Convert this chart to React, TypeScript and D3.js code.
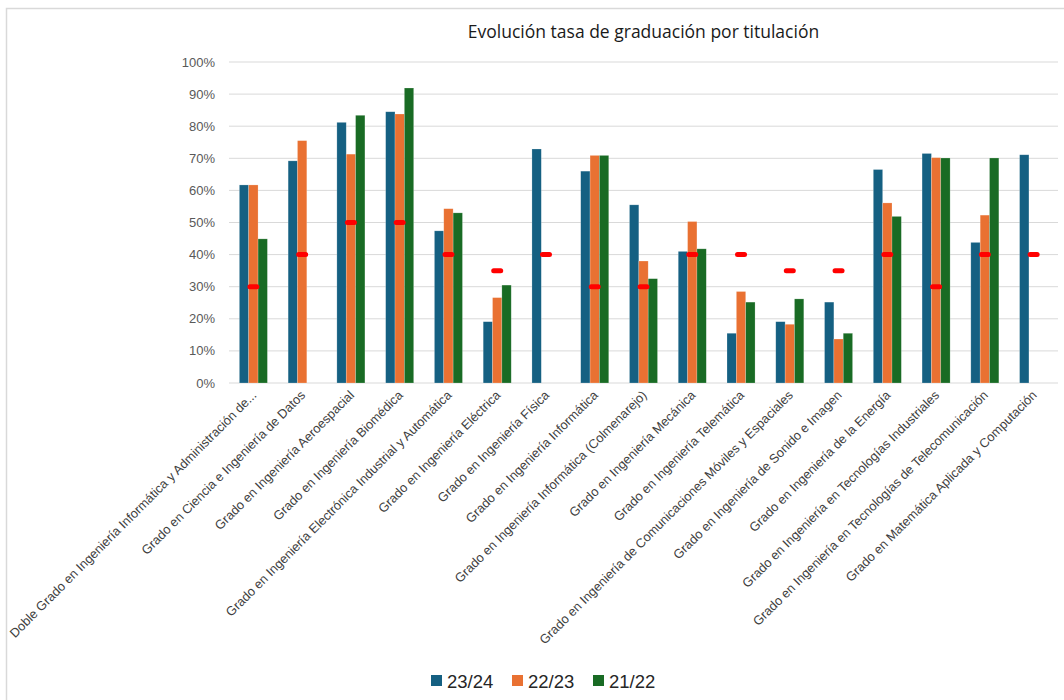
import React, { useRef, useEffect } from 'react';
import * as d3 from 'd3';

const categories = [
  'Doble Grado en Ingeniería Informática y Administración de...',
  'Grado en Ciencia e Ingeniería de Datos',
  'Grado en Ingeniería Aeroespacial',
  'Grado en Ingeniería Biomédica',
  'Grado en Ingeniería Electrónica Industrial y Automática',
  'Grado en Ingeniería Eléctrica',
  'Grado en Ingeniería Física',
  'Grado en Ingeniería Informática',
  'Grado en Ingeniería Informática (Colmenarejo)',
  'Grado en Ingeniería Mecánica',
  'Grado en Ingeniería Telemática',
  'Grado en Ingeniería de Comunicaciones Móviles y Espaciales',
  'Grado en Ingeniería de Sonido e Imagen',
  'Grado en Ingeniería de la Energía',
  'Grado en Ingeniería en Tecnologías Industriales',
  'Grado en Ingeniería en Tecnologías de Telecomunicación',
  'Grado en Matemática Aplicada y Computación',
];

const seriesNames = ['23/24', '22/23', '21/22'];

// null = no bar
const values2324 = [61.7, 69.2, 81.2, 84.5, 47.4, 19.1, 72.9, 66.0, 55.5, 41.0, 15.5, 19.1, 25.2, 66.5, 71.5, 43.8, 71.1];
const values2223 = [61.7, 75.5, 71.3, 83.8, 54.3, 26.6, null, 70.9, 38.0, 50.3, 28.5, 18.3, 13.7, 56.1, 70.2, 52.3, null];
const values2122 = [44.9, null, 83.4, 91.9, 53.0, 30.5, null, 70.9, 32.5, 41.8, 25.2, 26.2, 15.5, 51.9, 70.1, 70.1, null];

const targets = [30, 40, 50, 50, 40, 35, 40, 30, 30, 40, 40, 35, 35, 40, 30, 40, 40];

const yTicks = [0, 10, 20, 30, 40, 50, 60, 70, 80, 90, 100];

const colors = ['#156082', '#E97132', '#196B24'];

const W = 1064;
const H = 700;

export default function App() {
  const svgRef = useRef<SVGSVGElement>(null);

  useEffect(() => {
    if (!svgRef.current) return;
    const svg = d3.select(svgRef.current);
    svg.selectAll('*').remove();

    const margin = { left: 229, right: 6, top: 62, bottom: 317 };
    const x0 = margin.left;
    const x1 = W - margin.right;
    const y0 = H - margin.bottom; // 383

    // chart area border
    svg.append('rect')
      .attr('x', 6.5).attr('y', 8.5)
      .attr('width', W).attr('height', H)
      .attr('fill', '#fff')
      .attr('stroke', '#d9d9d9')
      .attr('stroke-width', 1.5);

    const x = d3.scaleBand<number>()
      .domain(d3.range(categories.length))
      .range([x0, x1])
      .paddingInner(0)
      .paddingOuter(0);

    const groupW = x.bandwidth() * 0.575;
    const xs = d3.scaleBand<number>()
      .domain([0, 1, 2])
      .range([0, groupW]);

    const y = d3.scaleLinear().domain([0, 100]).range([y0, margin.top]);

    // gridlines
    svg.append('g')
      .selectAll('line')
      .data(yTicks)
      .enter()
      .append('line')
      .attr('x1', x0).attr('x2', x1)
      .attr('y1', d => y(d)).attr('y2', d => y(d))
      .attr('stroke', '#d9d9d9')
      .attr('stroke-width', 1);

    // y labels
    svg.append('g')
      .selectAll('text')
      .data(yTicks)
      .enter()
      .append('text')
      .attr('x', 215)
      .attr('y', d => y(d))
      .attr('dy', '0.35em')
      .attr('text-anchor', 'end')
      .attr('font-family', '"Liberation Sans", Arial, sans-serif')
      .attr('font-size', 13)
      .attr('fill', '#595959')
      .text(d => `${d}%`);

    // bars
    const allSeries = [values2324, values2223, values2122];
    allSeries.forEach((vals, si) => {
      svg.append('g')
        .selectAll('rect')
        .data(vals.map((v, i) => ({ v, i })).filter(d => d.v !== null))
        .enter()
        .append('rect')
        .attr('x', d => (x(d.i) as number) + (x.bandwidth() - groupW) / 2 + (xs(si) as number))
        .attr('y', d => y(d.v as number))
        .attr('width', xs.bandwidth())
        .attr('height', d => y0 - y(d.v as number))
        .attr('fill', colors[si])
        .attr('stroke', '#ffffff')
        .attr('stroke-opacity', 0.35)
        .attr('stroke-width', 0.6);
    });

    // target markers
    svg.append('g')
      .selectAll('rect')
      .data(targets)
      .enter()
      .append('rect')
      .attr('x', (d, i) => (x(i) as number) + x.bandwidth() / 2 - 6)
      .attr('y', d => y(d) - 2.5)
      .attr('width', 12)
      .attr('height', 5)
      .attr('rx', 2.5)
      .attr('fill', '#ff0000');

    // x labels
    svg.append('g')
      .selectAll('text')
      .data(categories)
      .enter()
      .append('text')
      .attr('transform', (d, i) => `translate(${(x(i) as number) + x.bandwidth() / 2 + 4},${y0 + 13}) rotate(-45)`)
      .attr('text-anchor', 'end')
      .attr('font-family', '"Liberation Sans", Arial, sans-serif')
      .attr('font-size', 12.8)
      .attr('fill', '#404040')
      .text(d => d);

    // title
    svg.append('text')
      .attr('x', (x0 + x1) / 2)
      .attr('y', 38)
      .attr('text-anchor', 'middle')
      .attr('font-family', '"Open Sans", sans-serif')
      .attr('font-size', 17.5)
      .attr('fill', '#1a1a1a')
      .text('Evolución tasa de graduación por titulación');

    // legend
    const legendX = [431, 512, 593];
    const lg = svg.append('g');
    seriesNames.forEach((name, i) => {
      lg.append('rect')
        .attr('x', legendX[i]).attr('y', 675)
        .attr('width', 11).attr('height', 11)
        .attr('fill', colors[i]);
      lg.append('text')
        .attr('x', legendX[i] + 16)
        .attr('y', 681)
        .attr('dy', '0.36em')
        .attr('font-family', '"Liberation Sans", Arial, sans-serif')
        .attr('font-size', 18.5)
        .attr('fill', '#262626')
        .text(name);
    });
  }, []);

  return (
    <svg
      ref={svgRef}
      width={W}
      height={H}
      style={{ position: 'absolute', left: 0, top: 0, display: 'block', background: '#fff' }}
    />
  );
}
